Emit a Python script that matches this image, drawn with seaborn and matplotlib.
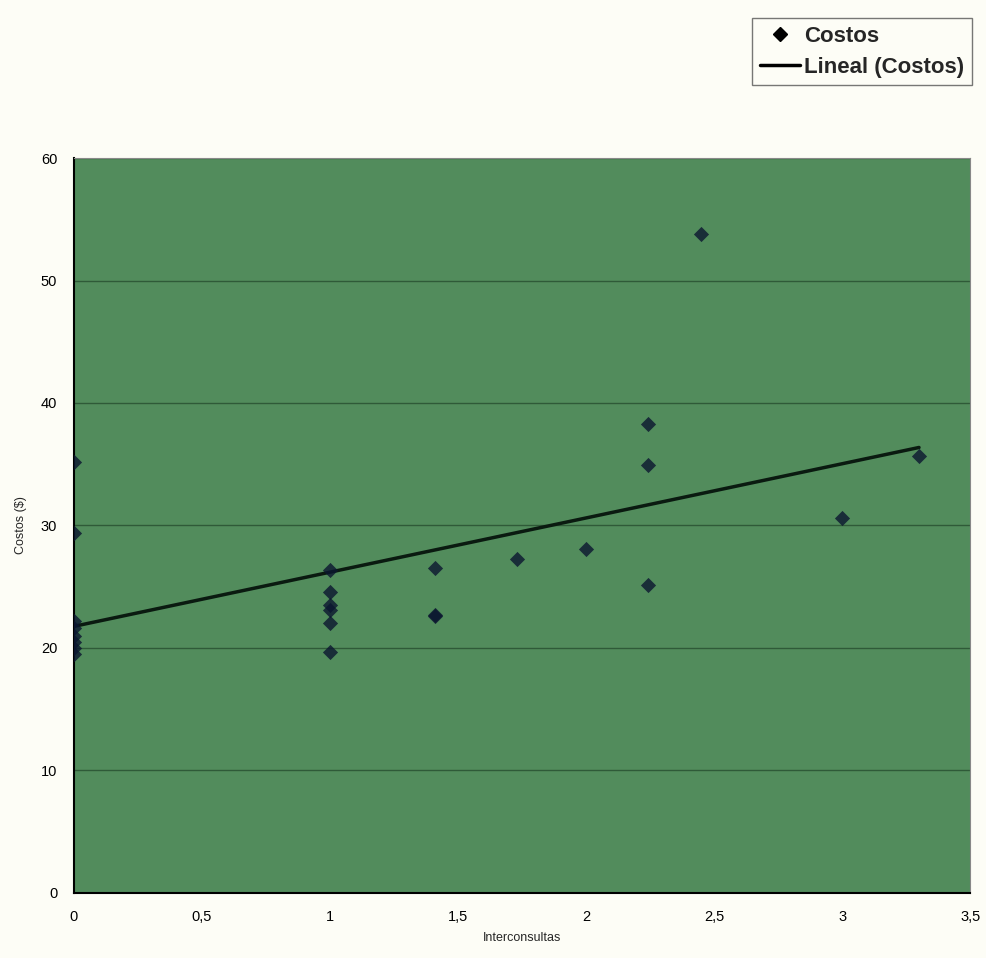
import numpy as np
import pandas as pd
import matplotlib.pyplot as plt
import seaborn as sns
from matplotlib.lines import Line2D
from matplotlib.ticker import FuncFormatter

# Interconsultas vs Costos ($)
interconsultas = [0, 0, 0, 0, 0, 0, 0, 0,
                  1, 1, 1, 1, 1, 1,
                  1.41, 1.41, 1.41,
                  1.73, 2, 2.24, 2.24, 2.24, 2.45, 3, 3.3]
costos = [35.2, 29.4, 22.2, 21.6, 21.0, 20.5, 20.0, 19.5,
          26.4, 24.6, 23.5, 23.1, 22.0, 19.7,
          26.5, 22.6, 22.7,
          27.3, 28.1, 38.3, 34.9, 25.1, 53.8, 30.6, 35.7]

df = pd.DataFrame({'Interconsultas': interconsultas, 'Costos': costos})

sns.set_style('white')
plt.rcParams['font.family'] = ['Liberation Sans', 'DejaVu Sans']

fig = plt.figure(figsize=(9.86, 9.58), dpi=100, facecolor='#fdfdf6')
ax = fig.add_axes([0.075, 0.068, 0.909, 0.767])
ax.set_facecolor('#528c5c')

sns.regplot(data=df, x='Interconsultas', y='Costos', ax=ax, ci=None, truncate=True,
            marker='D', scatter_kws={'s': 60, 'color': '#0b1630', 'linewidths': 0, 'zorder': 3},
            line_kws={'color': '#0a1a10', 'lw': 2.5, 'zorder': 2})

ax.set_xlim(0, 3.5)
ax.set_ylim(0, 60)
ax.set_xticks(np.arange(0, 3.51, 0.5))
ax.set_yticks(range(0, 61, 10))
ax.yaxis.grid(True, color='#2f5a38', lw=1)
ax.set_axisbelow(True)
fmt = FuncFormatter(lambda v, p: ('%g' % v).replace('.', ','))
ax.xaxis.set_major_formatter(fmt)
ax.tick_params(axis='both', labelsize=10.5, length=4, direction='out', colors='black', pad=8)
for s in ['top', 'right']:
    ax.spines[s].set_color('#888888')
for s in ['left', 'bottom']:
    ax.spines[s].set_color('black')
    ax.spines[s].set_linewidth(1.5)

ax.set_xlabel('Interconsultas', fontsize=9, labelpad=6)
ax.set_ylabel('Costos ($)', fontsize=9, labelpad=10)

handles = [Line2D([], [], marker='D', color='black', ls='', markersize=7),
           Line2D([], [], color='black', lw=2.5)]
fig.legend(handles, ['Costos', 'Lineal (Costos)'], loc='upper right',
           bbox_to_anchor=(0.997, 0.993), frameon=True, fancybox=False,
           edgecolor='#555555', facecolor='#fdfdf6', handlelength=1.8,
           handletextpad=0.2, borderpad=0.35, labelspacing=0.45,
           prop={'weight': 'bold', 'size': 16})

fig.savefig('out.png', dpi=100, facecolor=fig.get_facecolor())
